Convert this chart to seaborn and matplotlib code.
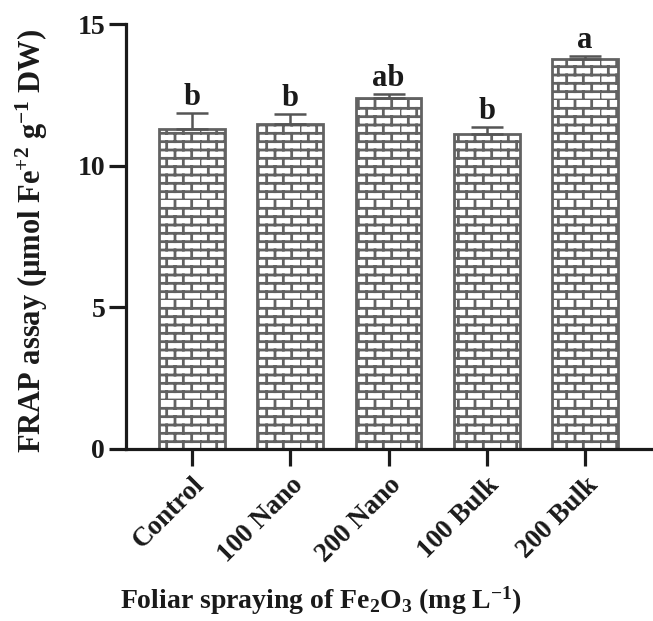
import numpy as np
import matplotlib
matplotlib.use('Agg')
import matplotlib.pyplot as plt
import matplotlib.hatch as mhatch
from matplotlib.path import Path
import seaborn as sns

# data
treatments = ['Control', '100 Nano', '200 Nano', '100 Bulk', '200 Bulk']
frap = [11.30, 11.47, 12.38, 11.12, 13.77]
frap_err = [0.55, 0.35, 0.14, 0.25, 0.10]
letters = ['b', 'b', 'ab', 'b', 'a']


## brick hatch (matplotlib has none), hooked onto the '-' hatch character
class BrickHatch(mhatch.HatchPatternBase):
    def __init__(self, hatch, density):
        self.rows = 12 if '-' in hatch else 0
        self.cols = 6
        self.num_vertices = self.rows * 2 + self.rows * self.cols * 2

    def set_vertices_and_codes(self, vertices, codes):
        k = 0
        for i in range(self.rows):
            y0 = i / self.rows
            y1 = (i + 1) / self.rows
            vertices[k] = (0, y0)
            vertices[k + 1] = (1, y0)
            codes[k] = Path.MOVETO
            codes[k + 1] = Path.LINETO
            k += 2
            shift = 0.5 * (i % 2)
            for j in range(self.cols):
                x = (j + shift) / self.cols
                vertices[k] = (x, y0)
                vertices[k + 1] = (x, y1)
                codes[k] = Path.MOVETO
                codes[k + 1] = Path.LINETO
                k += 2


mhatch._hatch_types = [BrickHatch]

sns.set_style('ticks')
plt.rcParams['font.family'] = ['Liberation Serif', 'DejaVu Serif']
plt.rcParams['font.weight'] = 'bold'
plt.rcParams['mathtext.fontset'] = 'custom'
plt.rcParams['mathtext.rm'] = 'Liberation Serif:bold'
plt.rcParams['mathtext.default'] = 'rm'
plt.rcParams['hatch.linewidth'] = 2.0

fig = plt.figure(figsize=(6.53, 6.21), dpi=100)
ax = fig.add_axes([0.193, 0.277, 0.807, 0.684])

sns.barplot(x=treatments, y=frap, color='white', edgecolor='#626262',
            linewidth=2.0, hatch='-', width=0.67, ax=ax)

x = np.arange(len(treatments))
ax.errorbar(x, frap, yerr=[np.zeros(len(frap)), frap_err], fmt='none',
            ecolor='#555555', elinewidth=1.8, capsize=11.5, capthick=1.8)

for xi, v, e, lab in zip(x, frap, frap_err, letters):
    ax.text(xi, v + e + 0.3, lab, ha='center', va='baseline',
            fontsize=22, fontweight='bold', color='#1a1a1a')

ax.set_ylim(0, 15)
ax.set_xlim(-0.67, 4.69)
ax.set_yticks([0, 5, 10, 15])

sns.despine(ax=ax)
for s in ['left', 'bottom']:
    ax.spines[s].set_linewidth(2.3)
    ax.spines[s].set_color('#1a1a1a')
ax.tick_params(axis='both', length=12, width=2.3, color='#1a1a1a',
               labelcolor='#1a1a1a')
ax.tick_params(axis='y', labelsize=20, pad=3)
ax.tick_params(axis='x', labelsize=19.5, pad=5)
plt.setp(ax.get_xticklabels(), rotation=45, ha='right',
         rotation_mode='anchor', fontweight='bold')
plt.setp(ax.get_yticklabels(), fontweight='bold')

ax.set_ylabel('FRAP assay (µmol Fe$^{+2}$ g$^{-1}$ DW)', fontsize=22,
              fontweight='bold', color='#1a1a1a')
ax.yaxis.set_label_coords(-0.145, 0.49)
ax.set_xlabel('Foliar spraying of Fe$_{2}$O$_{3}$ (mg L$^{-1}$)', fontsize=20,
              fontweight='bold', color='#1a1a1a')
ax.xaxis.set_label_coords(0.37, -0.318)

fig.savefig('out.png', dpi=100)
